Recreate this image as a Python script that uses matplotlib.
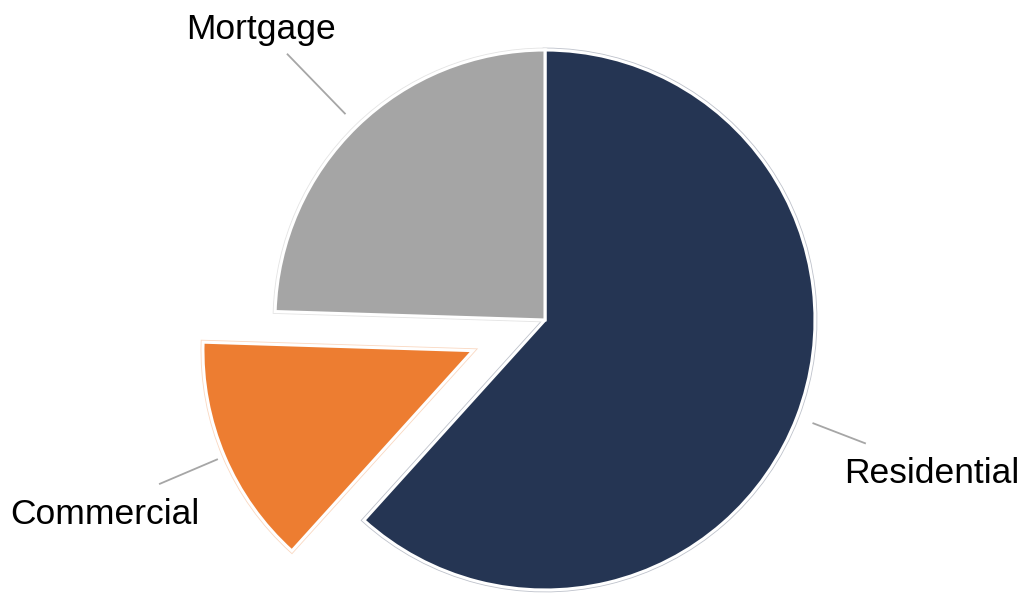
import numpy as np
import matplotlib.pyplot as plt
from matplotlib.colors import to_rgb

labels = ['Residential', 'Commercial', 'Mortgage']
shares = [61.7, 13.8, 24.5]
colors = ['#253553', '#ED7D31', '#A5A5A5']
explode = [0, 0.29, 0]

plt.rcParams['font.family'] = ['Liberation Sans', 'DejaVu Sans']

fig = plt.figure(figsize=(10.23, 5.93), dpi=100)
ax = fig.add_axes([0, 0, 1, 1])

def tint(c, k):
    r, g, b = to_rgb(c)
    return (1 - k * (1 - r), 1 - k * (1 - g), 1 - k * (1 - b))

# faint coloured halo under the white slice borders
halo = [tint(c, 0.3) for c in colors]
w1, _ = ax.pie(shares, colors=colors, explode=explode, startangle=90,
               counterclock=False, radius=1, frame=True,
               wedgeprops=dict(linewidth=3.4, edgecolor='none'))
for w, h in zip(w1, halo):
    w.set_edgecolor(h)
w2, _ = ax.pie(shares, colors=colors, explode=explode, startangle=90,
               counterclock=False, radius=1, frame=True,
               wedgeprops=dict(linewidth=2.2, edgecolor='white'))
ax.set_xlim(-545 / 270, (1023 - 545) / 270)
ax.set_ylim(-273 / 270, 320 / 270)
ax.set_aspect('auto')
ax.axis('off')

# leader lines and labels
outer = {'Residential': 1.27, 'Commercial': 1.26, 'Mortgage': 1.37}
inner = {'Residential': 1.065, 'Commercial': 1.03, 'Mortgage': 1.065}
for w, lab in zip(w2, labels):
    mid = np.deg2rad((w.theta1 + w.theta2) / 2)
    cx, cy = w.center
    d = np.array([np.cos(mid), np.sin(mid)])
    p0 = np.array([cx, cy]) + d * inner[lab]
    p1 = np.array([cx, cy]) + d * outer[lab]
    ax.plot([p0[0], p1[0]], [p0[1], p1[1]], color='#A6A6A6', lw=1.3)
    if lab == 'Mortgage':
        ax.text(p1[0] - 0.10, p1[1] + 0.03, lab, ha='center', va='bottom',
                fontsize=25.5, color='black')
    elif lab == 'Residential':
        ax.text(p1[0] - 0.077, p1[1] - 0.05, lab, ha='left', va='top',
                fontsize=25.5, color='black')
    else:
        ax.text(p1[0] + 0.148, p1[1] - 0.052, lab, ha='right', va='top',
                fontsize=25.5, color='black')

fig.savefig('out.png', dpi=100)
